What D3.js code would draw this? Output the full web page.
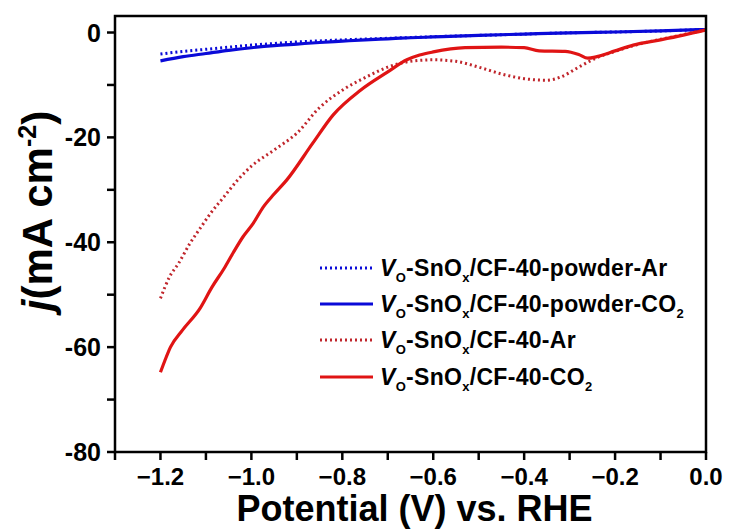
<!DOCTYPE html>
<html>
<head>
<meta charset="utf-8">
<script src="https://cdn.jsdelivr.net/npm/d3@7"></script>
<style>
  body { margin: 0; background: #fff; }
  svg { font-family: "Liberation Sans", Arial, sans-serif; font-weight: bold; }
</style>
</head>
<body>
<div id="chart"></div>
<script>
// ---- data ----
const powderX = [-1.2, -1.15, -1.1, -1.05, -1.0, -0.95, -0.9, -0.85, -0.8, -0.75, -0.7, -0.65, -0.6, -0.5, -0.4, -0.3, -0.2, -0.1, 0];
const powderArY = [-4.1, -3.6, -3.2, -2.8, -2.4, -2.1, -1.8, -1.6, -1.4, -1.25, -1.1, -0.95, -0.8, -0.55, -0.3, -0.05, 0.1, 0.3, 0.6];
const powderCO2Y = [-5.4, -4.6, -4.0, -3.4, -2.9, -2.5, -2.2, -1.9, -1.65, -1.4, -1.2, -1.0, -0.85, -0.55, -0.3, -0.05, 0.1, 0.3, 0.6];

const arX = [-1.2, -1.18, -1.16, -1.135, -1.11, -1.09, -1.06, -1.03, -1.0, -0.95, -0.9, -0.85, -0.8, -0.75, -0.7, -0.65, -0.6, -0.55, -0.5, -0.45, -0.4, -0.35, -0.32, -0.28, -0.24, -0.2, -0.16, -0.1, -0.05, 0];
const arY = [-50.7, -46.6, -44, -40.2, -37, -34.5, -31.3, -28.1, -25.5, -22.4, -19.2, -14.3, -11, -8.6, -6.6, -5.5, -5.2, -5.5, -6.6, -7.9, -8.8, -9.1, -8.5, -6.6, -4.8, -3.6, -2.5, -1.3, -0.4, 0.5];

const co2X = [-1.2, -1.19, -1.178, -1.152, -1.113, -1.087, -1.06, -1.04, -1.018, -0.996, -0.974, -0.95, -0.922, -0.865, -0.82, -0.76, -0.7, -0.658, -0.63, -0.6, -0.53, -0.45, -0.4, -0.367, -0.31, -0.28, -0.26, -0.24, -0.2, -0.16, -0.1, -0.05, 0];
const co2Y = [-64.8, -62.5, -60, -56.8, -52.6, -48.6, -45, -42, -38.9, -36.4, -33.3, -30.8, -28.1, -21.1, -15.7, -11, -7.5, -5.2, -4.3, -3.7, -2.9, -2.8, -2.9, -3.5, -3.6, -4.2, -4.9, -4.6, -3.5, -2.4, -1.4, -0.5, 0.5];

const xTicks = [-1.2, -1.0, -0.8, -0.6, -0.4, -0.2, 0.0];
const yTicks = [0, -20, -40, -60, -80];

const series = [
  { sub: 'CF-40-powder-Ar', gas: null, xs: powderX, ys: powderArY, color: '#0a0ad8', dash: '2,3' },
  { sub: 'CF-40-powder-CO', gas: '2', xs: powderX, ys: powderCO2Y, color: '#0a0ad8', dash: null },
  { sub: 'CF-40-Ar', gas: null, xs: arX, ys: arY, color: '#c0262c', dash: '2,3' },
  { sub: 'CF-40-CO', gas: '2', xs: co2X, ys: co2Y, color: '#e01414', dash: null }
];

// ---- setup ----
const width = 729, height = 531;
const margin = { top: 16, right: 23, bottom: 79, left: 115 };

const svg = d3.select('#chart').append('svg')
  .attr('width', width).attr('height', height);

const x = d3.scaleLinear().domain([-1.3, 0]).range([margin.left, width - margin.right]);
const y = d3.scaleLinear().domain([-80, 3.15]).range([height - margin.bottom, margin.top]);

// minor ticks
const xMinor = d3.range(-13, 1).map(d => d / 10);
const yMinor = d3.range(-80, 1, 10);

svg.append('g').selectAll('line').data(xMinor).enter().append('line')
  .attr('x1', d => x(d)).attr('x2', d => x(d))
  .attr('y1', y(-80)).attr('y2', y(-80) + 8)
  .attr('stroke', '#000').attr('stroke-width', 2.5);

svg.append('g').selectAll('line').data(yMinor).enter().append('line')
  .attr('x1', x(-1.3) - 8).attr('x2', x(-1.3))
  .attr('y1', d => y(d)).attr('y2', d => y(d))
  .attr('stroke', '#000').attr('stroke-width', 2.5);

// tick labels
svg.append('g').selectAll('text').data(xTicks).enter().append('text')
  .attr('x', d => x(d)).attr('y', y(-80) + 33)
  .attr('text-anchor', 'middle').attr('font-size', 24)
  .text(d => d3.format('.1f')(d));

svg.append('g').selectAll('text').data(yTicks).enter().append('text')
  .attr('x', x(-1.3) - 14).attr('y', d => y(d)).attr('dy', '0.36em')
  .attr('text-anchor', 'end').attr('font-size', 25)
  .text(d => d);

// curves
const line = d3.line().x(d => x(d[0])).y(d => y(d[1])).curve(d3.curveMonotoneX);
const plot = svg.append('g');
series.forEach(s => {
  const pts = s.xs.map((v, i) => [v, s.ys[i]]);
  plot.append('path')
    .attr('d', line(pts))
    .attr('fill', 'none')
    .attr('stroke', s.color)
    .attr('stroke-width', s.dash ? 3 : 3.2)
    .attr('stroke-dasharray', s.dash);
});

// frame
svg.append('rect')
  .attr('x', x(-1.3)).attr('y', y(3.15))
  .attr('width', x(0) - x(-1.3)).attr('height', y(-80) - y(3.15))
  .attr('fill', 'none').attr('stroke', '#000').attr('stroke-width', 2.5);

// legend
const legend = svg.append('g');
const rowY = [268, 304, 340, 377];
series.forEach((s, i) => {
  legend.append('line')
    .attr('x1', 320).attr('x2', 373)
    .attr('y1', rowY[i]).attr('y2', rowY[i])
    .attr('stroke', s.color).attr('stroke-width', 3)
    .attr('stroke-dasharray', s.dash);
  const t = legend.append('text')
    .attr('x', 380).attr('y', rowY[i] + 8)
    .attr('font-size', 23).attr('letter-spacing', 0.3);
  t.append('tspan').attr('font-style', 'italic').text('V');
  t.append('tspan').attr('font-size', 13).attr('dy', 6).text('O');
  t.append('tspan').attr('dy', -6).text('-SnO');
  t.append('tspan').attr('font-size', 13).attr('dy', 6).text('x');
  t.append('tspan').attr('dy', -6).text('/' + s.sub);
  if (s.gas) t.append('tspan').attr('font-size', 13).attr('dy', 6).text(s.gas);
});

// axis titles
svg.append('text')
  .attr('x', (x(-1.3) + x(0)) / 2 + 4).attr('y', 521)
  .attr('text-anchor', 'middle').attr('font-size', 36)
  .text('Potential (V) vs. RHE');

const yt = svg.append('text')
  .attr('transform', 'translate(52,211) rotate(-90)')
  .attr('text-anchor', 'middle').attr('font-size', 42);
yt.append('tspan').attr('font-style', 'italic').text('j');
yt.append('tspan').text('(mA cm');
yt.append('tspan').attr('font-size', 25).attr('dy', -16).text('-2');
yt.append('tspan').attr('dy', 16).text(')');
</script>
</body>
</html>
